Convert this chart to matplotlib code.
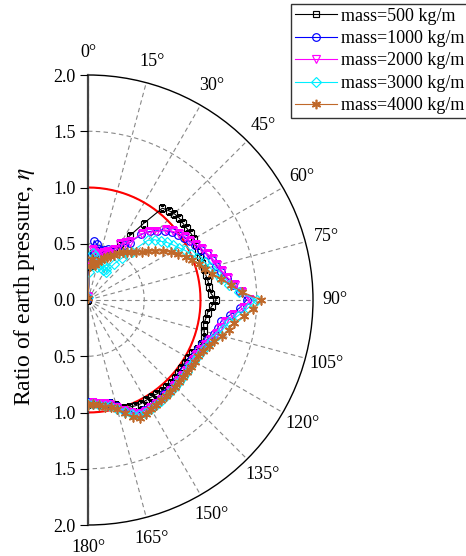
import numpy as np
import matplotlib
matplotlib.use("Agg")
import matplotlib.pyplot as plt
from matplotlib.ticker import FixedLocator

plt.rcParams['font.family'] = 'serif'
plt.rcParams['font.serif'] = ['Liberation Serif', 'DejaVu Serif']
plt.rcParams['mathtext.fontset'] = 'stix'

# ---------------- data ----------------
angles_deg = list(range(0, 181, 3))

ratio_m500 = [0.00, 0.30, 0.42, 0.44, 0.43, 0.42, 0.43, 0.45, 0.47, 0.50,
              0.57, 0.68, 0.84, 1.05, 1.07, 1.085, 1.09, 1.085, 1.085, 1.09,
              1.09, 1.08, 1.07, 1.065, 1.065, 1.065, 1.07, 1.08, 1.085, 1.095,
              1.14, 1.10, 1.07, 1.06, 1.05, 1.07, 1.085, 1.08, 1.065, 1.04,
              1.03, 1.025, 1.025, 1.03, 1.035, 1.04, 1.04, 1.04, 1.035, 1.03,
              1.03, 1.035, 1.03, 1.02, 1.01, 0.97, 0.94, 0.93, 0.93, 0.92, 0.92]

ratio_m1000 = [0.02, 0.38, 0.53, 0.50, 0.46, 0.45, 0.47, 0.49, 0.47, 0.47,
               0.52, 0.58, 0.63, 0.75, 0.82, 0.87, 0.92, 0.96, 0.99, 1.02,
               1.045, 1.07, 1.10, 1.13, 1.16, 1.18, 1.21, 1.25, 1.30, 1.35,
               1.41, 1.35, 1.27, 1.20, 1.18, 1.16, 1.12, 1.09, 1.07, 1.065,
               1.06, 1.06, 1.06, 1.06, 1.065, 1.07, 1.075, 1.08, 1.085, 1.09,
               1.10, 1.10, 1.10, 1.065, 1.03, 0.98, 0.94, 0.93, 0.92, 0.92, 0.91]

ratio_m2000 = [0.03, 0.30, 0.45, 0.42, 0.40, 0.42, 0.44, 0.46, 0.45, 0.50,
               0.57, 0.60, 0.64, 0.76, 0.81, 0.86, 0.93, 0.97, 1.00, 1.03,
               1.05, 1.08, 1.11, 1.14, 1.17, 1.19, 1.22, 1.26, 1.31, 1.37,
               1.44, 1.38, 1.30, 1.23, 1.20, 1.18, 1.14, 1.11, 1.09, 1.08,
               1.075, 1.075, 1.075, 1.075, 1.08, 1.085, 1.09, 1.095, 1.10, 1.105,
               1.11, 1.115, 1.11, 1.08, 1.04, 0.99, 0.95, 0.94, 0.93, 0.92, 0.92]

ratio_m3000 = [0.03, 0.25, 0.42, 0.40, 0.36, 0.30, 0.33, 0.35, 0.34, 0.30,
               0.32, 0.30, 0.40, 0.48, 0.58, 0.75, 0.80, 0.83, 0.87, 0.90,
               0.93, 0.97, 1.00, 1.04, 1.09, 1.12, 1.16, 1.20, 1.26, 1.34,
               1.50, 1.42, 1.34, 1.27, 1.23, 1.20, 1.16, 1.13, 1.11, 1.095,
               1.085, 1.085, 1.085, 1.085, 1.09, 1.09, 1.095, 1.10, 1.105, 1.11,
               1.12, 1.125, 1.12, 1.09, 1.05, 1.00, 0.96, 0.95, 0.94, 0.93, 0.92]

ratio_m4000 = [0.02, 0.30, 0.37, 0.33, 0.32, 0.35, 0.37, 0.40, 0.42, 0.44,
               0.46, 0.50, 0.53, 0.55, 0.57, 0.60, 0.64, 0.69, 0.74, 0.80,
               0.85, 0.90, 0.95, 0.99, 1.04, 1.08, 1.13, 1.20, 1.28, 1.37,
               1.54, 1.47, 1.39, 1.31, 1.28, 1.23, 1.18, 1.15, 1.12, 1.10,
               1.095, 1.093, 1.093, 1.092, 1.092, 1.092, 1.095, 1.10, 1.10, 1.11,
               1.12, 1.14, 1.145, 1.11, 1.06, 1.00, 0.97, 0.96, 0.94, 0.93, 0.93]

series_labels = ['mass=500 kg/m', 'mass=1000 kg/m', 'mass=2000 kg/m',
                 'mass=3000 kg/m', 'mass=4000 kg/m']
angle_ticks = list(range(0, 181, 15))
radial_ticks = [0.0, 0.5, 1.0, 1.5, 2.0]
reference_ratio = 1.0

# ---------------- figure ----------------
W_px, H_px = 466, 556
fig = plt.figure(figsize=(W_px / 100, H_px / 100), dpi=100)
cx, top, bot = 88, 75, 525
R = (bot - top) / 2
# polar axes: square box whose wedge (half disc) has its centre at 1/4 width
side = 2 * R
polar_rect = [(cx - side / 4) / W_px, (H_px - bot) / H_px, side / W_px, side / H_px]
cart_rect = [cx / W_px, (H_px - bot) / H_px, R / W_px, (bot - top) / H_px]

ax = fig.add_axes(polar_rect, projection='polar')
ax.set_theta_zero_location('N')
ax.set_theta_direction(-1)
ax.set_thetamin(0)
ax.set_thetamax(180)
ax.set_ylim(0, 2.0)
ax.set_rticks([0.5, 1.0, 1.5])
ax.set_yticklabels([])
ax.set_thetagrids(angle_ticks, labels=[f'{a}\u00b0' for a in angle_ticks], fontsize=13)
ax.xaxis.set_minor_locator(FixedLocator(np.deg2rad(np.arange(7.5, 180, 15))))
ax.tick_params(axis='x', which='major', direction='in', length=6, width=0.8, pad=9)
ax.tick_params(axis='x', which='minor', direction='in', length=3, width=0.8)
ax.grid(True, color='#888888', linestyle=(0, (4, 3)), linewidth=0.8)
ax.spines['polar'].set_linewidth(1.0)
for s in ('start', 'end'):
    ax.spines[s].set_color('#444444')
    ax.spines[s].set_linewidth(1.6)

th = np.deg2rad(np.array(angles_deg))
ref_th = np.deg2rad(np.linspace(0, 180, 181))
ax.plot(ref_th, np.full_like(ref_th, reference_ratio), color='red', lw=1.5, zorder=2)

styles = [
    (ratio_m500, 'black', 's', 5.0),
    (ratio_m1000, '#0000ff', 'o', 5.5),
    (ratio_m2000, '#ff00ff', 'v', 5.8),
    (ratio_m3000, '#00eeff', 'D', 4.6),
    (ratio_m4000, '#c0692a', (6, 2, 0), 6.8),
]
handles = []
for (vals, col, mk, ms), lab in zip(styles, series_labels):
    if isinstance(mk, tuple):
        h, = ax.plot(th, vals, color=col, lw=0.8, marker=mk, ms=ms, mew=1.2,
                     mec=col, label=lab, zorder=3)
    else:
        h, = ax.plot(th, vals, color=col, lw=0.8, marker=mk, ms=ms, mew=0.85,
                     mfc='none', mec=col, label=lab, zorder=3)
    handles.append(h)

# left cartesian axis carrying the radial scale
ax2 = fig.add_axes(cart_rect)
ax2.set_xlim(0, 2)
ax2.set_ylim(-2, 2)
ax2.patch.set_visible(False)
for s in ['top', 'right', 'bottom', 'left']:
    ax2.spines[s].set_visible(False)
ax2.set_xticks([])
yt = sorted(set([-t for t in radial_ticks] + radial_ticks))
ax2.set_yticks(yt)
ax2.set_yticklabels([f'{abs(t):.1f}' for t in yt], fontsize=13)
ax2.tick_params(axis='y', direction='out', length=6, width=0.8, pad=3)
ax2.set_ylabel('Ratio of earth pressure, $\\mathit{\\eta}$', fontsize=17, labelpad=2)
ax2.yaxis.set_label_coords(-0.225, 0.53)

leg = fig.legend(handles=handles, loc='upper left',
                 bbox_to_anchor=(291 / W_px, 1 - 4 / H_px), bbox_transform=fig.transFigure,
                 fontsize=13, frameon=True, fancybox=False, edgecolor='black',
                 handlelength=2.35, handletextpad=0.2, labelspacing=0.3,
                 borderpad=0.2, borderaxespad=0)
leg.get_frame().set_linewidth(1.0)

fig.savefig('out.png', dpi=100)
